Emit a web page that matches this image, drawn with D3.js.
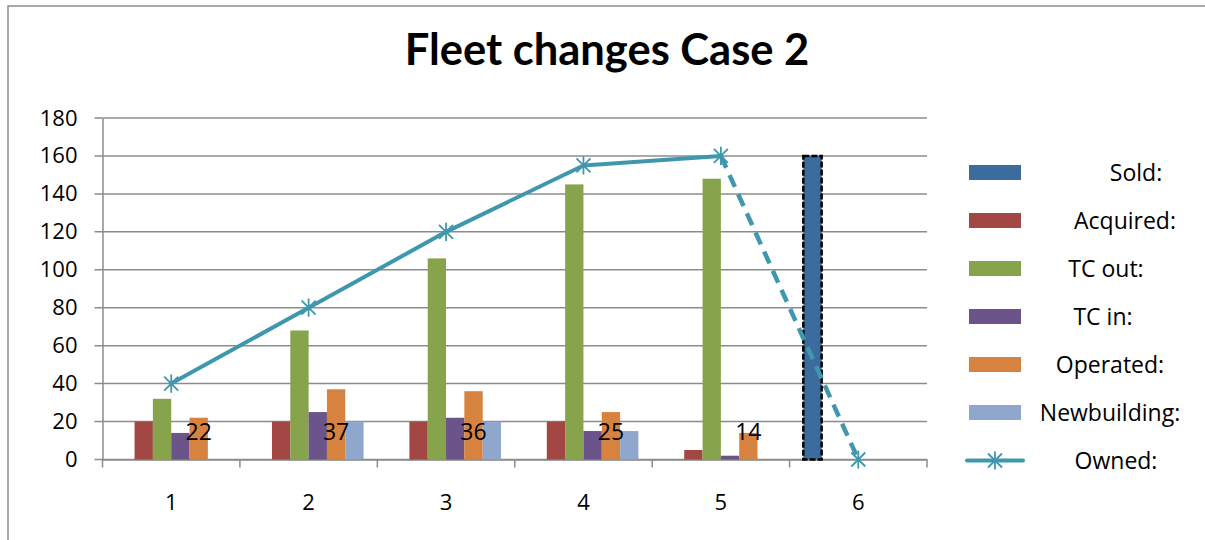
<!DOCTYPE html>
<html>
<head>
<meta charset="utf-8">
<script src="https://cdn.jsdelivr.net/npm/d3@7"></script>
<style>
  html, body { margin: 0; padding: 0; background: #fff; }
  svg { display: block; font-family: "Open Sans", Lato, sans-serif; }
</style>
</head>
<body>
<svg id="chart" width="1205" height="540"></svg>
<script>
// Fleet composition per period
const categories = ["1", "2", "3", "4", "5", "6"];
const seriesNames = ["Sold:", "Acquired:", "TC out:", "TC in:", "Operated:", "Newbuilding:"];
const sold        = [0, 0, 0, 0, 0, 160];
const acquired    = [20, 20, 20, 20, 5, 0];
const tcOut       = [32, 68, 106, 145, 148, 0];
const tcIn        = [14, 25, 22, 15, 2, 0];
const operated    = [22, 37, 36, 25, 14, 0];
const newbuilding = [0, 20, 20, 15, 0, 0];
const owned       = [40, 80, 120, 155, 160, 0];
const ownedLabel  = "Owned:";
const yTicks      = [0, 20, 40, 60, 80, 100, 120, 140, 160, 180];
const title       = "Fleet changes Case 2";

const seriesValues = [sold, acquired, tcOut, tcIn, operated, newbuilding];
const colors = ["#3c6c9e", "#a24743", "#87a34c", "#6b5489", "#d7823f", "#8fa7cd"];
const lineColor = "#3f97ae";
const gridColor = "#8c8c8c";
const textFont = "'Open Sans', Lato, sans-serif";

const svg = d3.select("#chart");

// outer chart frame (runs off the right and bottom edges)
svg.append("rect")
  .attr("x", 8).attr("y", 6).attr("width", 1220).attr("height", 560)
  .attr("fill", "none").attr("stroke", gridColor).attr("stroke-width", 1.5);

const plot = { left: 102.5, right: 927, top: 118, bottom: 459.5 };

const x0 = d3.scaleBand().domain(categories).range([plot.left, plot.right]).paddingInner(0).paddingOuter(0);
const x1 = d3.scaleBand().domain(seriesNames).range([0, x0.bandwidth()]).paddingInner(0).paddingOuter(0.75);
const y = d3.scaleLinear().domain([0, 180]).range([plot.bottom, plot.top]);

// title
svg.append("text")
  .attr("x", 607).attr("y", 65)
  .attr("text-anchor", "middle")
  .attr("font-family", "Lato, 'Open Sans', sans-serif")
  .attr("font-weight", "bold").attr("font-size", 43.5)
  .attr("fill", "#000")
  .text(title);

// horizontal gridlines with left tick stubs
svg.append("g").selectAll("line").data(yTicks).join("line")
  .attr("x1", plot.left - 8).attr("x2", plot.right)
  .attr("y1", d => y(d)).attr("y2", d => y(d))
  .attr("stroke", gridColor).attr("stroke-width", 1.5);

// y axis
const yAxis = svg.append("g")
  .attr("transform", `translate(${plot.left},0)`)
  .call(d3.axisLeft(y).tickValues(yTicks).tickSize(0).tickPadding(25));
yAxis.select(".domain").attr("stroke", gridColor).attr("stroke-width", 1.5);
yAxis.selectAll("text").attr("font-size", 22).attr("fill", "#000")
  .attr("font-family", textFont);

// x axis
const xAxis = svg.append("g")
  .attr("transform", `translate(0,${plot.bottom})`)
  .call(d3.axisBottom(x0).tickSize(0).tickPadding(35));
xAxis.select(".domain").attr("stroke", gridColor).attr("stroke-width", 1.5);
xAxis.selectAll("text").attr("font-size", 22).attr("fill", "#000")
  .attr("font-family", textFont);
// category boundary ticks
const boundaries = categories.map(c => x0(c)).concat([x0(categories[categories.length - 1]) + x0.bandwidth()]);
svg.append("g").selectAll("line").data(boundaries).join("line")
  .attr("x1", d => d).attr("x2", d => d)
  .attr("y1", plot.bottom).attr("y2", plot.bottom + 8)
  .attr("stroke", gridColor).attr("stroke-width", 1.5);

// bars
const barData = [];
seriesValues.forEach((vals, si) => {
  vals.forEach((v, ci) => {
    if (v > 0) barData.push({ s: seriesNames[si], si, c: categories[ci], v });
  });
});
svg.append("g").selectAll("rect").data(barData).join("rect")
  .attr("x", d => x0(d.c) + x1(d.s))
  .attr("width", x1.bandwidth())
  .attr("y", d => y(d.v))
  .attr("height", d => y(0) - y(d.v))
  .attr("fill", d => colors[d.si])
  .attr("stroke", d => d.si === 0 ? "#000" : "none")
  .attr("stroke-width", d => d.si === 0 ? 2.5 : 0)
  .attr("stroke-dasharray", d => d.si === 0 ? "6,2" : null);

// value labels for the operated fleet
svg.append("g").selectAll("text")
  .data(operated.map((v, i) => ({ v, c: categories[i] })).filter(d => d.v > 0))
  .join("text")
  .attr("x", d => x0(d.c) + x1("Operated:") + x1.bandwidth() / 2)
  .attr("y", y(0) - 20)
  .attr("text-anchor", "middle")
  .attr("font-family", textFont)
  .attr("font-size", 23).attr("fill", "#000")
  .text(d => d.v);

// owned fleet line: solid, then dashed for the final step
const cx = c => x0(c) + x0.bandwidth() / 2;
const pts = owned.map((v, i) => [cx(categories[i]), y(v)]);
const line = d3.line();
svg.append("path")
  .attr("d", line(pts.slice(0, 5)))
  .attr("fill", "none").attr("stroke", lineColor).attr("stroke-width", 4)
  .attr("stroke-linejoin", "round").attr("stroke-linecap", "round");
svg.append("path")
  .attr("d", line(pts.slice(4)))
  .attr("fill", "none").attr("stroke", lineColor).attr("stroke-width", 4.5)
  .attr("stroke-dasharray", "13,8");

function star(g, px, py, r) {
  const d = `M${px - r},${py - r}L${px + r},${py + r}M${px - r},${py + r}L${px + r},${py - r}M${px},${py - r * 1.3}L${px},${py + r * 1.3}`;
  g.append("path").attr("d", d).attr("stroke", lineColor).attr("stroke-width", 1.8).attr("fill", "none");
}
const markers = svg.append("g");
pts.forEach(p => star(markers, p[0], p[1], 7));

// legend
const legendX = 969, legendW = 52, legendTop = 172.5, legendStep = 48;
const legendTextCenters = [1136, 1125, 1106, 1103, 1110, 1110, 1116];
const legend = svg.append("g").attr("font-family", textFont);
seriesNames.forEach((name, i) => {
  const cy = legendTop + i * legendStep;
  legend.append("rect")
    .attr("x", legendX).attr("y", cy - 7.5).attr("width", legendW).attr("height", 15)
    .attr("fill", colors[i]);
  legend.append("text")
    .attr("x", legendTextCenters[i]).attr("y", cy + 8)
    .attr("text-anchor", "middle").attr("font-size", 23).attr("fill", "#000")
    .text(name);
});
{
  const cy = legendTop + seriesNames.length * legendStep;
  legend.append("line")
    .attr("x1", legendX - 2).attr("x2", legendX + legendW + 2)
    .attr("y1", cy).attr("y2", cy)
    .attr("stroke", lineColor).attr("stroke-width", 4).attr("stroke-linecap", "round");
  star(legend, legendX + legendW / 2, cy, 7);
  legend.append("text")
    .attr("x", legendTextCenters[6]).attr("y", cy + 8)
    .attr("text-anchor", "middle").attr("font-size", 23).attr("fill", "#000")
    .text(ownedLabel);
}
</script>
</body>
</html>
